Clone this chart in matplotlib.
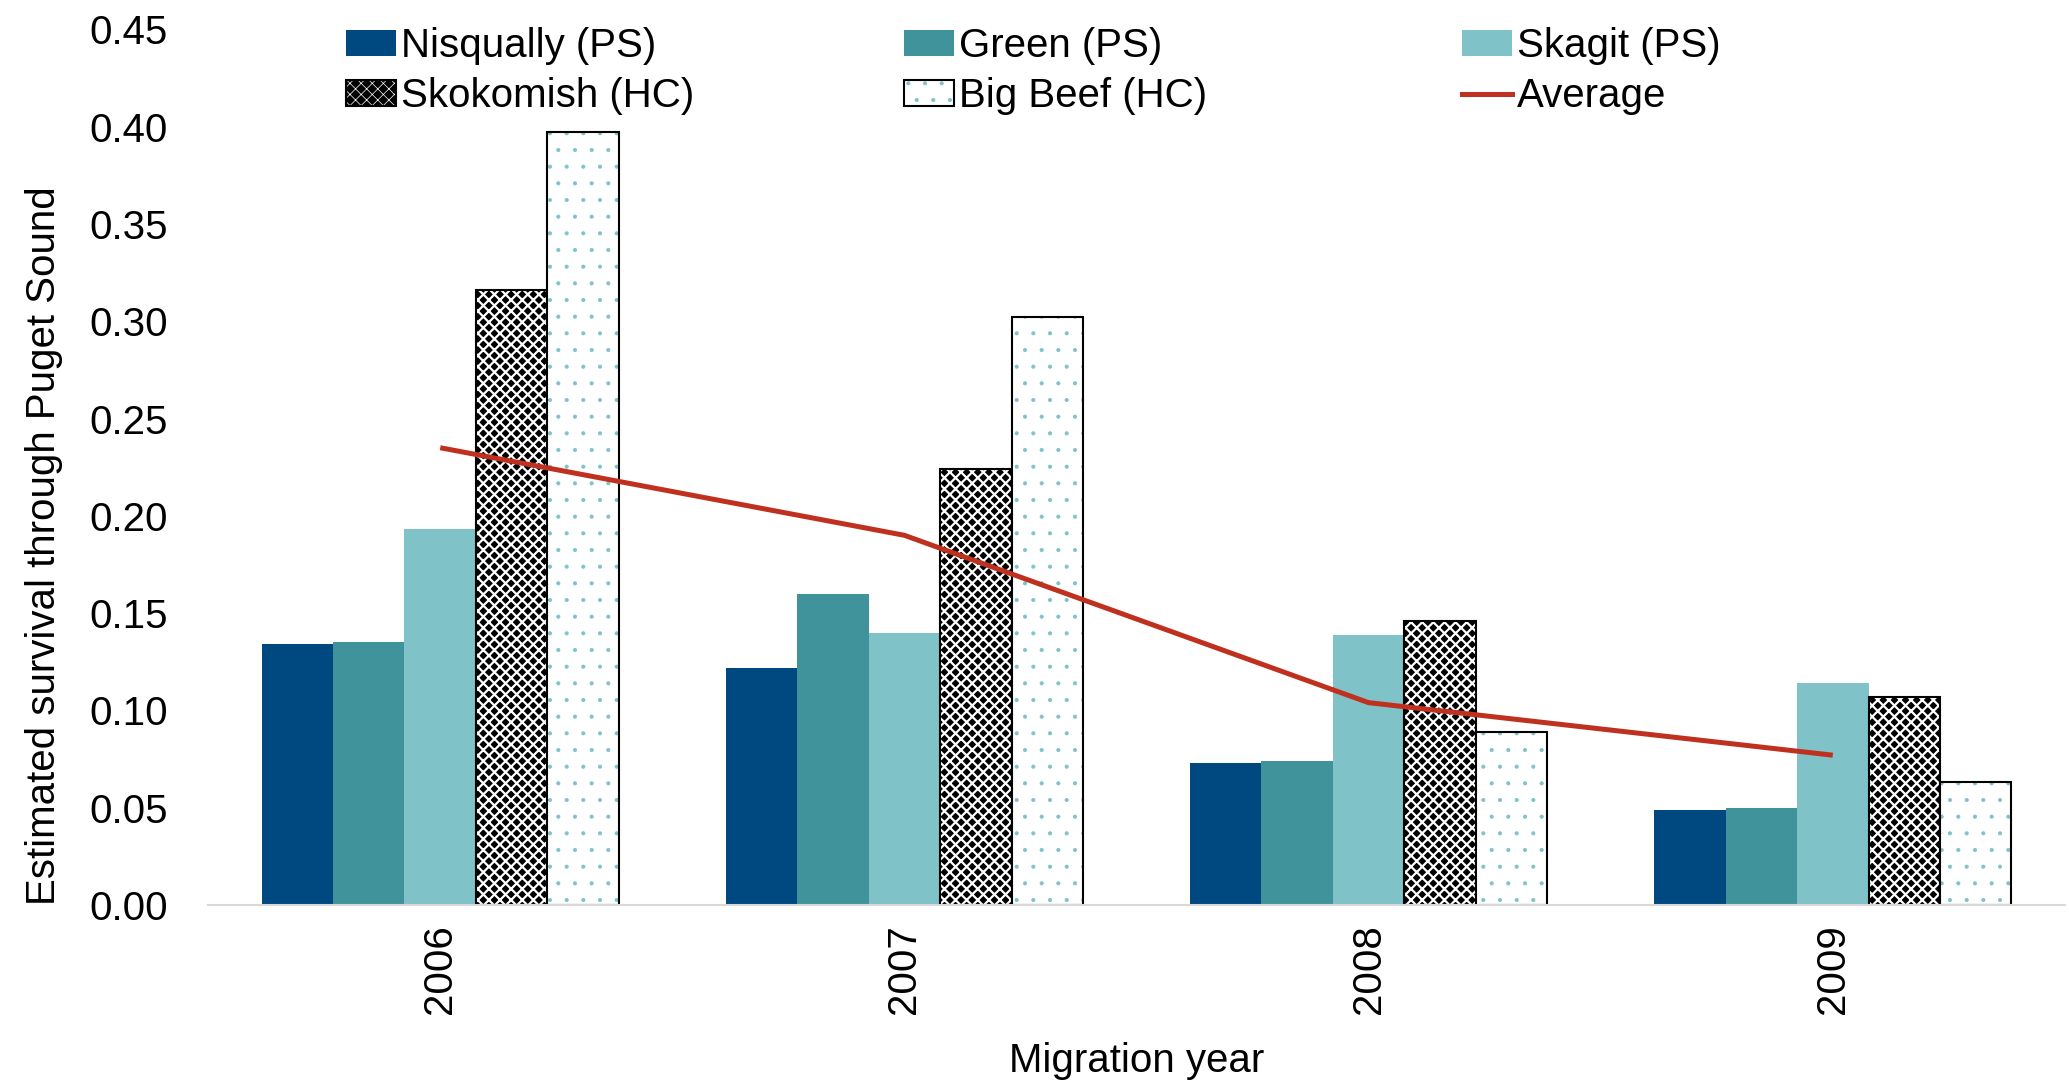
import matplotlib
matplotlib.use("Agg")
import matplotlib.pyplot as plt
import numpy as np
from matplotlib.patches import Patch
from matplotlib.lines import Line2D
from matplotlib.legend_handler import HandlerTuple
from matplotlib.ticker import FormatStrFormatter

plt.rcParams['font.family'] = ['Liberation Sans', 'DejaVu Sans']

years = ["2006", "2007", "2008", "2009"]
nisqually = [0.134, 0.122, 0.073, 0.049]
green = [0.135, 0.160, 0.074, 0.050]
skagit = [0.193, 0.140, 0.139, 0.114]
skokomish = [0.316, 0.224, 0.146, 0.107]
big_beef = [0.397, 0.302, 0.089, 0.063]
average = [0.235, 0.190, 0.104, 0.077]

c_nis = "#004880"
c_green = "#40939B"
c_skagit = "#7FC2C8"
c_red = "#C0301E"

fig = plt.figure(figsize=(20.69, 10.87), dpi=100)
ax = fig.add_axes([0.1006, 0.1674, 0.8974, 0.8056])

x = np.arange(len(years))
w = 0.154
fs = 29


def set_hlw(patches, lw):
    for p in patches:
        if hasattr(p, "set_hatch_linewidth"):
            p.set_hatch_linewidth(lw)


ax.bar(x - 2 * w, nisqually, w, color=c_nis, linewidth=0)
ax.bar(x - 1 * w, green, w, color=c_green, linewidth=0)
ax.bar(x, skagit, w, color=c_skagit, linewidth=0)

plt.rcParams['hatch.linewidth'] = 1.6
sk = ax.bar(x + 1 * w, skokomish, w, facecolor="black", edgecolor="white", hatch="xxx", linewidth=0)
set_hlw(sk, 1.6)
ax.bar(x + 1 * w, skokomish, w, fill=False, edgecolor="black", linewidth=1.5)

plt.rcParams['hatch.linewidth'] = 0.5
bb = ax.bar(x + 2 * w, big_beef, w, facecolor="white", edgecolor=c_skagit, hatch=".", linewidth=0)
set_hlw(bb, 0.5)
ax.bar(x + 2 * w, big_beef, w, fill=False, edgecolor="black", linewidth=1.5)

ax.plot(x, average, color=c_red, linewidth=3.6, solid_capstyle="butt")

ax.set_xlim(-0.5, 3.5)
ax.set_ylim(0, 0.45)
ax.set_yticks(np.arange(0, 0.451, 0.05))
ax.yaxis.set_major_formatter(FormatStrFormatter('%.2f'))
ax.set_xticks(x)
ax.set_xticklabels(years, rotation=90)
ax.tick_params(axis='both', length=0, labelsize=fs)
ax.tick_params(axis='x', pad=14)
ax.tick_params(axis='y', pad=29)
for s in ['top', 'right', 'left']:
    ax.spines[s].set_visible(False)
ax.spines['bottom'].set_color('#D9D9D9')
ax.spines['bottom'].set_linewidth(1.5)

ax.set_xlabel("Migration year", fontsize=fs, labelpad=20)
ax.set_ylabel("Estimated survival through Puget Sound", fontsize=fs, labelpad=19, loc='bottom')

h_nis = Patch(facecolor=c_nis, linewidth=0)
h_green = Patch(facecolor=c_green, linewidth=0)
h_skagit = Patch(facecolor=c_skagit, linewidth=0)
plt.rcParams['hatch.linewidth'] = 1.6
h_skok_f = Patch(facecolor="black", edgecolor="white", hatch="xxx", linewidth=0)
set_hlw([h_skok_f], 1.6)
h_skok = (h_skok_f, Patch(fill=False, edgecolor="black", linewidth=1.5))
plt.rcParams['hatch.linewidth'] = 0.5
h_bb_f = Patch(facecolor="white", edgecolor=c_skagit, hatch=".", linewidth=0)
set_hlw([h_bb_f], 0.5)
h_bb = (h_bb_f, Patch(fill=False, edgecolor="black", linewidth=1.5))
h_avg = Line2D([0], [0], color=c_red, linewidth=3.6)

legend_cols = [
    ([h_nis, h_skok], ["Nisqually (PS)", "Skokomish (HC)"], 0.167),
    ([h_green, h_bb], ["Green (PS)", "Big Beef (HC)"], 0.4368),
    ([h_skagit, h_avg], ["Skagit (PS)", "Average"], 0.7065),
]
for hs, ls, xpos in legend_cols:
    fig.legend(hs, ls, ncol=1, loc="upper left",
               bbox_to_anchor=(xpos, 0.975), frameon=False, fontsize=fs,
               handler_map={tuple: HandlerTuple(ndivide=1, pad=0)},
               handlelength=1.25, handleheight=0.6, handletextpad=0.12,
               labelspacing=0.3, borderaxespad=0, borderpad=0)

fig.savefig("out.png", dpi=100)
